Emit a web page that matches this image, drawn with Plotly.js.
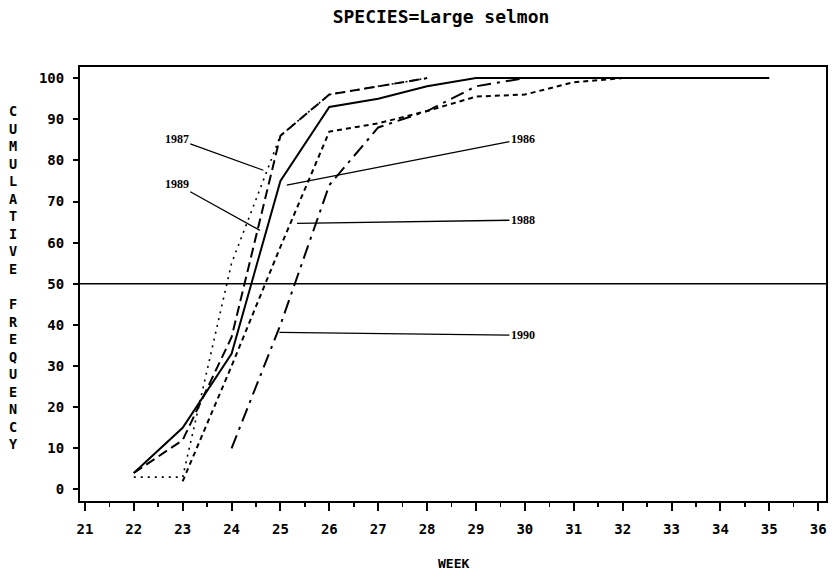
<!DOCTYPE html>
<html><head><meta charset="utf-8">
<script src="https://cdn.plot.ly/plotly-3.0.1.min.js"></script>
<style>html,body{margin:0;padding:0;background:#fff}</style>
</head><body><div id="chart" style="width:834px;height:578px"></div>
<script>
// Cumulative frequency (%) by week, Large salmon
const weeks1986 = [22,23,24,25,26,27,28,29,30,31,32,33,34,35];
const freq1986  = [4,15,33,75,93,95,98,100,100,100,100,100,100,100];
const weeks1987 = [22,23,24,25,26,27,28];
const freq1987  = [3,3,55,86,96,98,100];
const weeks1988 = [23,24,25,26,27,28,29,30,31,32];
const freq1988  = [2,30,59,87,89,92,95.5,96,99,100];
const weeks1989 = [22,23,24,25,26,27,28];
const freq1989  = [4,12,37,86,96,98,100];
const weeks1990 = [24,25,26,27,28,29,30];
const freq1990  = [10,40,74,88,92,98,100];

const xTicks = [21,22,23,24,25,26,27,28,29,30,31,32,33,34,35,36];
const yTicks = [0,10,20,30,40,50,60,70,80,90,100];
const refLevel = 50;

const titleText = 'SPECIES=Large selmon';
const xTitle = 'WEEK';
const yTitleLetters = ['C','U','M','U','L','A','T','I','V','E',' ','F','R','E','Q','U','E','N','C','Y'];

// label: [text, target week, target value, label week, label value]
const labels = [
  ['1987', 24.65, 77.6, 22.88, 85.2],
  ['1989', 24.58, 63.0, 22.88, 74.2],
  ['1986', 25.13, 74.0, 29.96, 85.2],
  ['1988', 25.34, 64.7, 29.96, 65.5],
  ['1990', 24.98, 38.2, 29.96, 37.5]
];

const ink = '#000';
const mono = '"DejaVu Sans Mono", monospace';

function tr(x, y, dash, w) {
  return {x: x, y: y, type: 'scatter', mode: 'lines',
          line: {color: ink, width: w, dash: dash}, hoverinfo: 'skip', showlegend: false};
}
const data = [
  tr(weeks1986, freq1986, 'solid', 2),
  tr(weeks1987, freq1987, '2px,5px', 1.6),
  tr(weeks1988, freq1988, '5px,4px', 2),
  tr(weeks1989, freq1989, '10px,5px', 2),
  tr(weeks1990, freq1990, '14px,6px,3px,6px', 2)
];

const annotations = labels.map(l => ({
  text: '<b>' + l[0] + '</b>', x: l[1], y: l[2], xref: 'x', yref: 'y',
  ax: l[3], ay: l[4], axref: 'x', ayref: 'y',
  showarrow: true, arrowhead: 0, arrowwidth: 1.3, arrowcolor: ink, standoff: 0,
  font: {family: '"Liberation Serif", serif', size: 12, color: ink},
  borderpad: 1
}));
annotations.push({
  text: '<b>' + xTitle + '</b>', xref: 'paper', yref: 'paper', x: 0.5, y: -0.143,
  xanchor: 'center', yanchor: 'middle', showarrow: false,
  font: {family: mono, size: 13, color: ink}
});
annotations.push({
  text: '<b>' + yTitleLetters.join('<br>') + '</b>', xref: 'paper', yref: 'paper',
  x: -0.0885, y: 0.515, xanchor: 'center', yanchor: 'middle', showarrow: false,
  font: {family: mono, size: 13.5, color: ink}
});

const layout = {
  width: 834, height: 578,
  margin: {l: 80, r: 8, t: 67, b: 77},
  paper_bgcolor: '#fff', plot_bgcolor: '#fff',
  title: {text: '<b>' + titleText + '</b>', x: 441/834, xref: 'container', xanchor: 'center',
          y: 1 - 17/578, yanchor: 'middle',
          font: {family: mono, size: 18, color: ink}},
  xaxis: {range: [20.9, 36.16], tickvals: xTicks, ticks: 'outside', ticklen: 8, tickwidth: 2,
          tickcolor: ink, showgrid: false, zeroline: false, showline: true, mirror: true,
          linecolor: ink, linewidth: 2,
          minor: {dtick: 0.5, tick0: 21, ticks: 'outside', ticklen: 4, tickwidth: 1.5, tickcolor: ink},
          tickfont: {family: mono, size: 14, color: ink, weight: 'bold'}, ticklabelstandoff: 6},
  yaxis: {range: [-2.8, 102.7], tickvals: yTicks, ticks: 'outside', ticklen: 5, tickwidth: 2,
          tickcolor: ink, showgrid: false, zeroline: false, showline: true, mirror: true,
          linecolor: ink, linewidth: 2,
          tickfont: {family: mono, size: 14, color: ink, weight: 'bold'}, ticklabelstandoff: 6},
  shapes: [{type: 'line', xref: 'paper', x0: 0, x1: 1, yref: 'y', y0: refLevel, y1: refLevel,
            line: {color: ink, width: 1.5}}],
  annotations: annotations
};

Plotly.newPlot('chart', data, layout, {displayModeBar: false, staticPlot: true});
</script></body></html>
